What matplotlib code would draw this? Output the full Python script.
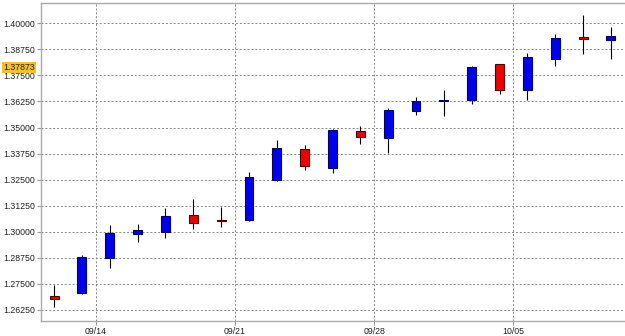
import numpy as np
import matplotlib
matplotlib.use("Agg")
import matplotlib.pyplot as plt

# daily candles, one per trading day (index = position on the x axis)
opens  = [1.2692, 1.2708, 1.2876, 1.2988, 1.3000, 1.3079, 1.3057, 1.3057, 1.3247, 1.3396, 1.3307,
          1.3485, 1.3448, 1.3579, 1.3628, 1.3632, 1.3805, 1.3679, 1.3830, 1.3936, 1.3921]
highs  = [1.2745, 1.2890, 1.3031, 1.3036, 1.3114, 1.3159, 1.3119, 1.3288, 1.3439, 1.3415, 1.3493,
          1.3506, 1.3595, 1.3647, 1.3682, 1.3795, 1.3806, 1.3859, 1.3949, 1.4040, 1.3984]
lows   = [1.2641, 1.2702, 1.2825, 1.2952, 1.2972, 1.3015, 1.3024, 1.3053, 1.3245, 1.3298, 1.3282,
          1.3421, 1.3378, 1.3562, 1.3554, 1.3614, 1.3662, 1.3632, 1.3794, 1.3853, 1.3830]
closes = [1.2676, 1.2878, 1.2994, 1.3007, 1.3074, 1.3044, 1.3053, 1.3263, 1.3402, 1.3314, 1.3490,
          1.3453, 1.3584, 1.3626, 1.3631, 1.3789, 1.3682, 1.3837, 1.3928, 1.3923, 1.3941]

week_ticks = [1.5, 6.5, 11.5, 16.5]
week_labels = ['09/14', '09/21', '09/28', '10/05']
last_price = 1.37873

plt.rcParams['font.family'] = ['Liberation Sans', 'DejaVu Sans']

fig = plt.figure(figsize=(6.25, 3.36), dpi=100)
ax = fig.add_axes([41 / 625, 15 / 336, 583 / 625, 317.7 / 336])

x = np.arange(len(opens))
o = np.array(opens)
c = np.array(closes)
up = c >= o

# wicks
ax.vlines(x, lows, highs, color='black', linewidth=0.8, zorder=2)

# bodies
bottoms = np.minimum(o, c)
heights = np.maximum(np.abs(c - o), 0.0002)
colors = np.where(up, '#0000ee', '#ee0000')
edges = np.where(up, '#000066', '#550000')
ax.bar(x, heights, bottom=bottoms, width=0.32, color=colors,
       edgecolor=edges, linewidth=0.8, zorder=3)

ax.set_xlim(-0.47, 20.47)
ax.set_ylim(1.2572, 1.4096)

ax.set_yticks(np.arange(1.2625, 1.40001, 0.0125))
ax.yaxis.set_major_formatter(matplotlib.ticker.FormatStrFormatter('%.5f'))
ax.set_xticks(week_ticks)
ax.set_xticklabels(week_labels)

ax.grid(True, color='#888888', linestyle=(0, (2, 2)), linewidth=0.7)
ax.set_axisbelow(True)
ax.tick_params(axis='both', labelsize=6.3, colors='#999999', labelcolor='#222222',
               length=3, width=0.8, pad=1.5)
for side in ['top', 'right', 'left', 'bottom']:
    ax.spines[side].set_color('#aaaaaa')
    ax.spines[side].set_linewidth(1.0)
ax.spines['right'].set_visible(False)

# last price marker on the axis
ax.text(-0.01, last_price, '%.5f' % last_price, transform=ax.get_yaxis_transform(),
        ha='right', va='center', fontsize=6.3, color='#222222',
        bbox=dict(boxstyle='square,pad=0.15', facecolor='#f5c02a', edgecolor='none'),
        zorder=5, clip_on=False)

fig.savefig('out.png', dpi=100)
